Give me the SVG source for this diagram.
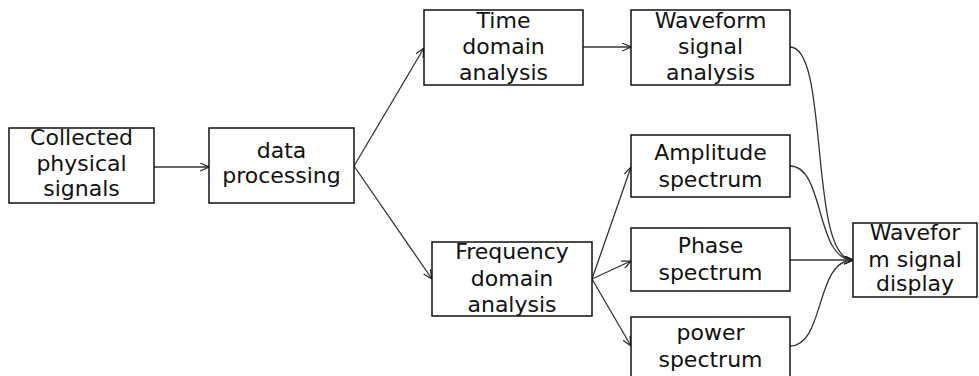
<svg xmlns="http://www.w3.org/2000/svg" width="979" height="376" viewBox="0 0 979 376">
<defs>
<marker id="arr" viewBox="0 0 10 10" refX="10" refY="5" markerWidth="9" markerHeight="9" markerUnits="userSpaceOnUse" orient="auto">
<path d="M0,0.5 L10,5 L0,9.5" fill="none" stroke="#222" stroke-width="1.3"/>
</marker>
</defs>
<style>
rect{fill:#fff;stroke:#111;stroke-width:1.5}
text{font-family:"DejaVu Sans","Liberation Sans",sans-serif;font-size:22px;fill:#111;text-anchor:middle}
.c{fill:none;stroke:#333;stroke-width:1.3}
</style>
<rect x="0" y="0" width="979" height="376" style="stroke:none"/>
<g id="connectors">
<path class="c" d="M154,167 L209,167" marker-end="url(#arr)"/>
<path class="c" d="M354,166 L424,48" marker-end="url(#arr)"/>
<path class="c" d="M354,166 L432,279" marker-end="url(#arr)"/>
<path class="c" d="M583,47 L631,47" marker-end="url(#arr)"/>
<path class="c" d="M592,279 L631,167" marker-end="url(#arr)"/>
<path class="c" d="M592,279 L631,261" marker-end="url(#arr)"/>
<path class="c" d="M592,279 L631,346" marker-end="url(#arr)"/>
<path class="c" d="M790,47 C830,47 808,260 853,260" marker-end="url(#arr)"/>
<path class="c" d="M790,166 C825,166 815,260 853,260" marker-end="url(#arr)"/>
<path class="c" d="M790,260 L853,260" marker-end="url(#arr)"/>
<path class="c" d="M790,346 C825,346 815,260 853,260" marker-end="url(#arr)"/>
</g>
<g id="collected">
<rect x="9" y="128" width="145" height="75"/>
<text x="81.5" y="145">Collected</text>
<text x="81.5" y="171">physical</text>
<text x="81.5" y="196">signals</text>
</g>
<g id="processing">
<rect x="209" y="128" width="145" height="75"/>
<text x="281.5" y="158">data</text>
<text x="281.5" y="183">processing</text>
</g>
<g id="time">
<rect x="424" y="10" width="159" height="75"/>
<text x="503.5" y="28">Time</text>
<text x="503.5" y="54">domain</text>
<text x="503.5" y="80">analysis</text>
</g>
<g id="waveform">
<rect x="631" y="10" width="159" height="75"/>
<text x="710.5" y="28">Waveform</text>
<text x="710.5" y="54">signal</text>
<text x="710.5" y="80">analysis</text>
</g>
<g id="frequency">
<rect x="432" y="242" width="160" height="74"/>
<text x="512" y="259">Frequency</text>
<text x="512" y="286">domain</text>
<text x="512" y="312">analysis</text>
</g>
<g id="amplitude">
<rect x="631" y="135" width="159" height="62"/>
<text x="710.5" y="160">Amplitude</text>
<text x="710.5" y="187">spectrum</text>
</g>
<g id="phase">
<rect x="631" y="228" width="159" height="63"/>
<text x="710.5" y="253">Phase</text>
<text x="710.5" y="280">spectrum</text>
</g>
<g id="power">
<rect x="631" y="317" width="159" height="70"/>
<text x="710.5" y="340">power</text>
<text x="710.5" y="367">spectrum</text>
</g>
<g id="display">
<rect x="853" y="223" width="124" height="74"/>
<text x="915" y="240">Wavefor</text>
<text x="915" y="267">m signal</text>
<text x="915" y="291">display</text>
</g>
</svg>
